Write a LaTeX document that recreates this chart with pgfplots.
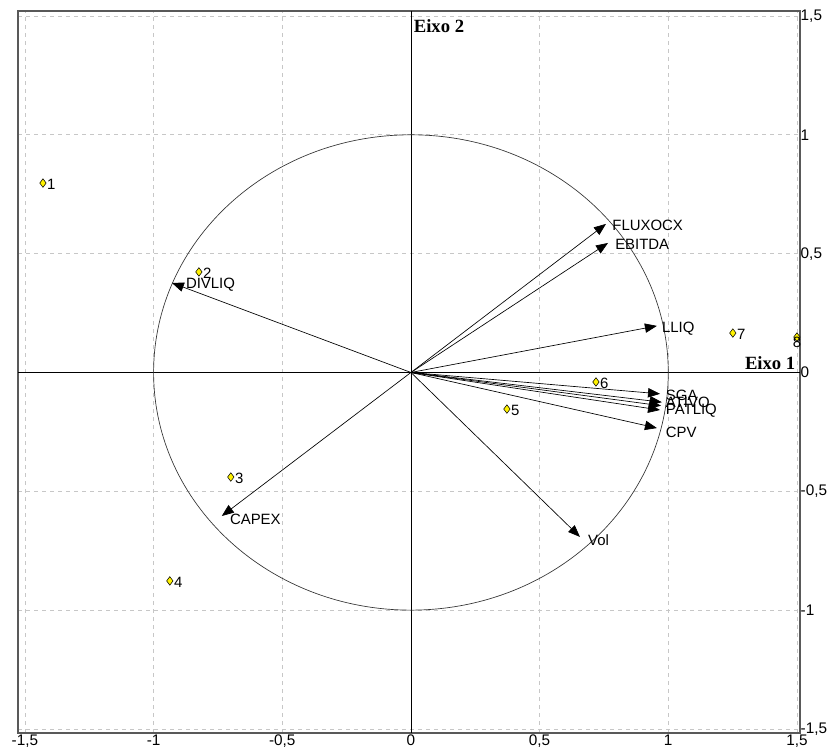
\documentclass[border=0pt]{standalone}
\usepackage{pgfplots}
\pgfplotsset{compat=1.18}
\usepackage{fontspec}
\setmainfont{Liberation Sans}
\newfontfamily\serifb{Liberation Serif}
\usetikzlibrary{arrows.meta}
\pgfplotstableread{
x y lab
-1.430 0.797 1
-0.824 0.423 2
-0.700 -0.440 3
-0.937 -0.877 4
0.373 -0.154 5
0.719 -0.040 6
1.251 0.166 7
}\pts
\pgfplotstableread{
x y lab
1.500 0.149 8
}\ptseight
\begin{document}
\begin{tikzpicture}[vec/.style={black, line width=0.5pt, -{Triangle[length=9pt,width=7pt]}}]
\begin{axis}[
  scale only axis, width=586.5pt, height=541.5pt,
  xmin=-1.527, xmax=1.512, ymin=-1.517, ymax=1.521,
  xtick={-1.5,-1,-0.5,0,0.5,1,1.5},
  ytick={-1.5,-1,-0.5,0,0.5,1,1.5},
  xticklabels={{-1,5},{-1},{-0,5},{0},{0,5},{1},{1,5}},
  yticklabels={{-1,5},{-1},{-0,5},{0},{0,5},{1},{1,5}},
  yticklabel pos=right,
  tick style={draw=none},
  xticklabel style={yshift=2pt},
  yticklabel style={xshift=-3pt, anchor=west},
  grid=major, grid style={dashed, black!22, line width=0.6pt},
  axis line style={draw=black!65, line width=1.5pt},
  tick label style={font=\fontsize{11.5}{12}\selectfont},
  clip=false,
]
\draw[black, line width=0.6pt] (axis cs:-1.527,0) -- (axis cs:1.512,0);
\draw[black, line width=0.6pt] (axis cs:0,-1.517) -- (axis cs:0,1.521);
\draw[black!80, line width=0.5pt] (axis cs:0,0) ellipse [x radius=1, y radius=1];

\addplot[vec] coordinates {(0,0) (0.758,0.625)};
\addplot[vec] coordinates {(0,0) (0.766,0.545)};
\addplot[vec] coordinates {(0,0) (0.956,0.196)};
\addplot[vec] coordinates {(0,0) (-0.929,0.377)};
\addplot[vec] coordinates {(0,0) (0.968,-0.090)};
\addplot[vec] coordinates {(0,0) (0.975,-0.125)};
\addplot[vec] coordinates {(0,0) (0.972,-0.140)};
\addplot[vec] coordinates {(0,0) (0.968,-0.158)};
\addplot[vec] coordinates {(0,0) (0.956,-0.234)};
\addplot[vec] coordinates {(0,0) (0.657,-0.692)};
\addplot[vec] coordinates {(0,0) (-0.735,-0.604)};

\begin{scope}[every node/.style={font=\fontsize{11.2}{12}\selectfont, anchor=west, inner sep=0pt}]
\node at (axis cs:0.782,0.617) {FLUXOCX};
\node at (axis cs:0.793,0.537) {EBITDA};
\node at (axis cs:0.975,0.186) {LLIQ};
\node at (axis cs:-0.875,0.368) {DIVLIQ};
\node at (axis cs:0.99,-0.095) {SGA};
\node at (axis cs:0.99,-0.126) {ATIVO};
\node at (axis cs:0.99,-0.160) {PATLIQ};
\node at (axis cs:0.99,-0.250) {CPV};
\node at (axis cs:0.688,-0.705) {Vol};
\node at (axis cs:-0.704,-0.620) {CAPEX};
\end{scope}

\addplot[only marks, mark=diamond*, mark size=3.2pt, mark options={fill=yellow, draw=black, line width=0.4pt},
  nodes near coords, point meta=explicit symbolic,
  every node near coord/.style={anchor=west, xshift=2pt, yshift=-1pt, inner sep=1pt, font=\fontsize{11.2}{12}\selectfont}]
  table[x=x, y=y, meta=lab] {\pts};
\addplot[only marks, mark=diamond*, mark size=3.2pt, mark options={fill=yellow, draw=black, line width=0.4pt},
  nodes near coords, point meta=explicit symbolic,
  every node near coord/.style={anchor=north, yshift=1pt, inner sep=1pt, font=\fontsize{11.2}{12}\selectfont}]
  table[x=x, y=y, meta=lab] {\ptseight};

\node[anchor=south east, inner sep=1pt, font=\serifb\bfseries\fontsize{14}{14}\selectfont] at (axis cs:1.5,0.005) {Eixo 1};
\node[anchor=north west, inner sep=1pt, font=\serifb\bfseries\fontsize{14}{14}\selectfont] at (axis cs:0.005,1.49) {Eixo 2};
\end{axis}
\pgfresetboundingbox
\useasboundingbox ([shift={(-13.5pt,-15pt)}]current axis.south west) rectangle ([shift={(24.75pt,8.25pt)}]current axis.north east);
\end{tikzpicture}
\end{document}
